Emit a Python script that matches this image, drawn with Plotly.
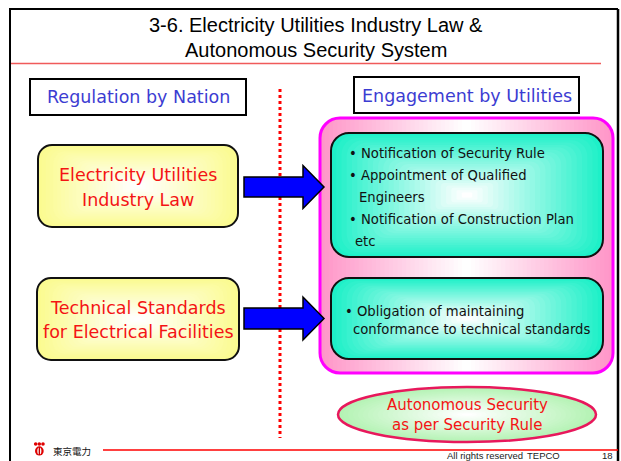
import plotly.graph_objects as go

W, H = 621, 461

# ---- text content ----
TITLE_LINES = ["3-6. Electricity Utilities Industry Law &", "Autonomous Security System"]
HEADERS = ["Regulation by Nation", "Engagement by Utilities"]
LAW_LABELS = [["Electricity Utilities", "Industry Law"],
              ["Technical Standards", "for Electrical Facilities"]]
DUTY_LINES_1 = ["\u2022 Notification of Security Rule", "\u2022 Appointment of Qualified",
                "Engineers", "\u2022 Notification of Construction Plan", "etc"]
DUTY_LINES_2 = ["\u2022 Obligation of maintaining", "conformance to technical standards"]
OUTCOME_LINES = ["Autonomous Security", "as per Security Rule"]
LOGO_TEXT = "東京電力"
FOOTER_TEXT = ["All rights reserved", "TEPCO", "18"]

# ---- geometry / style (pixel coordinates, y downward) ----
K = 0.5523


def rr_path(x0, y0, x1, y1, r):
    r = max(0.0, min(r, (x1 - x0) / 2, (y1 - y0) / 2))
    k = K * r
    return (f"M{x0 + r},{y0} L{x1 - r},{y0} "
            f"C{x1 - r + k},{y0} {x1},{y0 + r - k} {x1},{y0 + r} "
            f"L{x1},{y1 - r} C{x1},{y1 - r + k} {x1 - r + k},{y1} {x1 - r},{y1} "
            f"L{x0 + r},{y1} C{x0 + r - k},{y1} {x0},{y1 - r + k} {x0},{y1 - r} "
            f"L{x0},{y0 + r} C{x0},{y0 + r - k} {x0 + r - k},{y0} {x0 + r},{y0} Z")


def hex2rgb(h):
    h = h.lstrip('#')
    return tuple(int(h[i:i + 2], 16) for i in (0, 2, 4))


def lerp(c1, c2, t):
    a, b = hex2rgb(c1), hex2rgb(c2)
    return "rgb(%d,%d,%d)" % tuple(round(a[i] + (b[i] - a[i]) * t) for i in range(3))


shapes = []
annotations = []


def add_radial_rrect(x0, y0, x1, y1, r, edge, center, border, bw, n=26):
    cx, cy = (x0 + x1) / 2, (y0 + y1) / 2
    hw, hh = (x1 - x0) / 2, (y1 - y0) / 2
    for k in range(n):
        s = 1 - k / n
        t = k / (n - 1)
        shapes.append(dict(type="path", path=rr_path(cx - hw * s, cy - hh * s, cx + hw * s, cy + hh * s, r * s),
                           fillcolor=lerp(edge, center, t), line=dict(width=0), xref="x", yref="y"))
    shapes.append(dict(type="path", path=rr_path(x0, y0, x1, y1, r), fillcolor="rgba(0,0,0,0)",
                       line=dict(color=border, width=bw), xref="x", yref="y"))


def add_hgrad_rrect(x0, y0, x1, y1, r, edge, center, border, bw, n=34):
    hw = (x1 - x0) / 2
    for k in range(n):
        d = hw * k / n
        t = k / (n - 1)
        shapes.append(dict(type="path", path=rr_path(x0 + d, y0, x1 - d, y1, max(r - d, 0)),
                           fillcolor=lerp(edge, center, t), line=dict(width=0), xref="x", yref="y"))
    shapes.append(dict(type="path", path=rr_path(x0, y0, x1, y1, r), fillcolor="rgba(0,0,0,0)",
                       line=dict(color=border, width=bw), xref="x", yref="y"))


def add_radial_ellipse(x0, y0, x1, y1, edge, center, border, bw, n=26):
    cx, cy = (x0 + x1) / 2, (y0 + y1) / 2
    hw, hh = (x1 - x0) / 2, (y1 - y0) / 2
    for k in range(n):
        s = 1 - k / n
        t = k / (n - 1)
        shapes.append(dict(type="circle", x0=cx - hw * s, x1=cx + hw * s, y0=cy - hh * s, y1=cy + hh * s,
                           fillcolor=lerp(edge, center, t), line=dict(width=0), xref="x", yref="y"))
    shapes.append(dict(type="circle", x0=x0, x1=x1, y0=y0, y1=y1, fillcolor="rgba(0,0,0,0)",
                       line=dict(color=border, width=bw), xref="x", yref="y"))


def add_line(x0, y0, x1, y1, color, width, dash="solid"):
    shapes.append(dict(type="line", x0=x0, y0=y0, x1=x1, y1=y1, xref="x", yref="y",
                       line=dict(color=color, width=width, dash=dash)))


def add_text(x, y, text, size, color, family, xanchor="center"):
    annotations.append(dict(x=x, y=y, xref="x", yref="y", text=text, showarrow=False,
                            xanchor=xanchor, yanchor="middle",
                            font=dict(size=size, color=color, family=family)))


def arrow_path(xs, xh, xt, yc, sh, hh):
    return (f"M{xs},{yc - sh} L{xh},{yc - sh} L{xh},{yc - hh} L{xt},{yc} "
            f"L{xh},{yc + hh} L{xh},{yc + sh} L{xs},{yc + sh} Z")


ARIAL = "Liberation Sans, Arial, sans-serif"
TAHOMA = "DejaVu Sans, Verdana, sans-serif"
CJK = "Noto Sans CJK JP, sans-serif"

# frame
add_line(10, 9, 10, 470, "black", 2)
add_line(9, 9, 618, 9, "black", 2)
add_line(618, 9, 618, 470, "black", 2.5)

# title
add_text(316, 25, TITLE_LINES[0], 20, "black", ARIAL)
add_text(316, 50, TITLE_LINES[1], 20, "black", ARIAL)
add_line(11, 63.5, 601, 63.5, "#f05a5a", 1.5)

# dotted divider
add_line(280, 89, 280, 438, "#ff0000", 3, "dot")

# header boxes
shapes.append(dict(type="rect", x0=30, x1=246, y0=79, y1=115, fillcolor="white",
                   line=dict(color="black", width=2), xref="x", yref="y"))
shapes.append(dict(type="rect", x0=354, x1=579, y0=77, y1=113, fillcolor="white",
                   line=dict(color="black", width=2), xref="x", yref="y"))
add_text(138, 97, HEADERS[0], 17.5, "#3c3cd2", TAHOMA)
add_text(466.5, 95.5, HEADERS[1], 17.5, "#3c3cd2", TAHOMA)

# yellow law boxes
YELLOW_BOXES = [(38, 145, 238, 227), (37, 278, 239, 360)]
LAW_LINE_Y = [(175, 200), (308, 332)]
for (x0, y0, x1, y1), labels, ys in zip(YELLOW_BOXES, LAW_LABELS, LAW_LINE_Y):
    add_radial_rrect(x0, y0, x1, y1, 14, "#fbfb90", "#ffffff", "#111111", 2)
    for lab, yy in zip(labels, ys):
        add_text((x0 + x1) / 2, yy, lab, 17.5, "#f41414", TAHOMA)

# pink utilities container
add_hgrad_rrect(320, 118, 613, 373, 20, "#ff96c8", "#ffffff", "#ff00ff", 3)

# cyan duty boxes
add_radial_rrect(331, 133, 603, 257, 18, "#1ef0c8", "#ffffff", "#111111", 2)
add_radial_rrect(331, 278, 603, 359, 18, "#1ef0c8", "#ffffff", "#111111", 2)

DUTY1_X = [347, 347, 357, 347, 353]
DUTY1_Y = [153, 175, 197, 219, 241]
for txt, xx, yy in zip(DUTY_LINES_1, DUTY1_X, DUTY1_Y):
    add_text(xx, yy, txt, 13.2, "#111111", TAHOMA, xanchor="left")
DUTY2_X = [343, 351]
DUTY2_Y = [311, 329]
for txt, xx, yy in zip(DUTY_LINES_2, DUTY2_X, DUTY2_Y):
    add_text(xx, yy, txt, 13.2, "#111111", TAHOMA, xanchor="left")

# arrows
for yc, sh in [(187, 10), (318.5, 10.5)]:
    shapes.append(dict(type="path", path=arrow_path(244, 303, 324, yc, sh, 21.5),
                       fillcolor="#0000ff", line=dict(color="black", width=1.5), xref="x", yref="y"))

# outcome ellipse
add_radial_ellipse(338, 387, 596, 442, "#b4f3b4", "#ffffff", "#e8185c", 2.5)
add_text(467, 405, OUTCOME_LINES[0], 15, "#f41414", TAHOMA)
add_text(467, 425, OUTCOME_LINES[1], 15, "#f41414", TAHOMA)

# footer
add_line(103, 450, 618, 450, "#ff0000", 1.5)
for cx in (35.7, 39.3, 43.0):
    shapes.append(dict(type="circle", x0=cx - 1.8, x1=cx + 1.8, y0=442.2, y1=445.8,
                       fillcolor="#e00000", line=dict(width=0), xref="x", yref="y"))
shapes.append(dict(type="circle", x0=35, x1=43.7, y0=446.3, y1=455.5,
                   fillcolor="#e00000", line=dict(width=0), xref="x", yref="y"))
shapes.append(dict(type="circle", x0=37.3, x1=41.4, y0=447.5, y1=454.5,
                   fillcolor="white", line=dict(width=0), xref="x", yref="y"))
add_line(39.35, 447, 39.35, 455, "#c00000", 1.4)
add_text(72, 450.5, LOGO_TEXT, 9.5, "#111111", CJK)
add_text(445, 455.5, FOOTER_TEXT[0], 9.5, "#222222", ARIAL, xanchor="left")
add_text(525, 455.5, FOOTER_TEXT[1], 9.5, "#222222", ARIAL, xanchor="left")
add_text(615, 455.5, FOOTER_TEXT[2], 9.5, "#222222", ARIAL, xanchor="right")

fig = go.Figure()
fig.update_layout(
    width=W, height=H, margin=dict(l=0, r=0, t=0, b=0),
    paper_bgcolor="white", plot_bgcolor="white",
    xaxis=dict(range=[0, W], visible=False, fixedrange=True),
    yaxis=dict(range=[H, 0], visible=False, fixedrange=True),
    shapes=shapes, annotations=annotations, showlegend=False,
)
fig.write_html("out.html", config={"displayModeBar": False, "staticPlot": True},
               post_script="document.body.style.margin='0px';document.body.style.overflow='hidden';")
